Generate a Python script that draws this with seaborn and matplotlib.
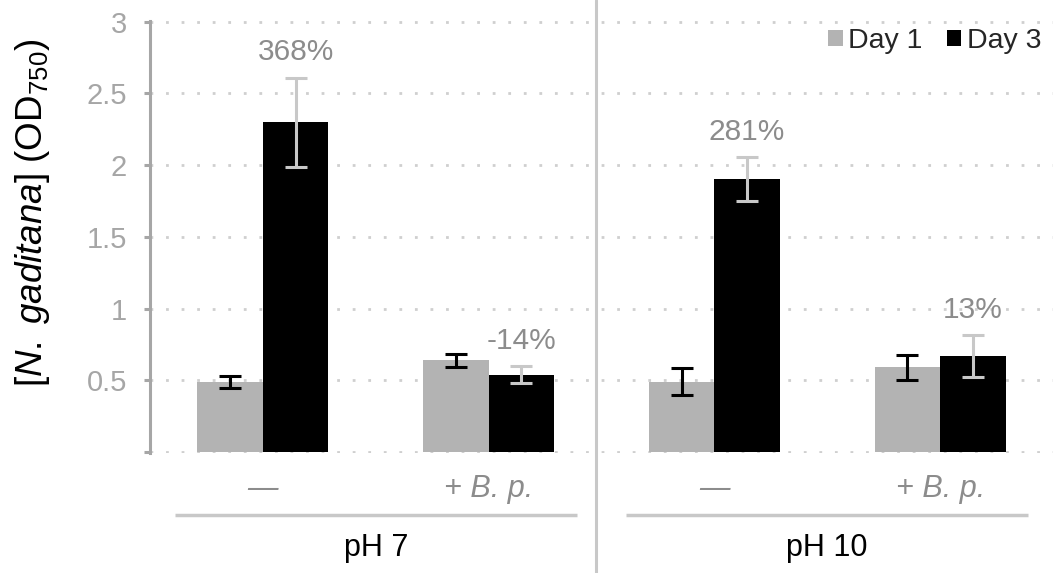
import numpy as np
import pandas as pd
import matplotlib
matplotlib.use("Agg")
import matplotlib.pyplot as plt
import seaborn as sns
from matplotlib.transforms import blended_transform_factory

# ---- data ----
categories = ["pH7_ctrl", "pH7_Bp", "pH10_ctrl", "pH10_Bp"]
tick_labels = ["\u2014", "+ B. p.", "\u2014", "+ B. p."]
groups = ["pH 7", "pH 10"]
days = ["Day 1", "Day 3"]
day1_values = [0.49, 0.64, 0.49, 0.59]
day1_errors = [0.04, 0.045, 0.095, 0.09]
day3_values = [2.30, 0.54, 1.90, 0.67]
day3_errors = [0.31, 0.058, 0.153, 0.145]
change_labels = ["368%", "-14%", "281%", "13%"]
y_ticks = [0, 0.5, 1, 1.5, 2, 2.5, 3]
y_tick_labels = ["", "0.5", "1", "1.5", "2", "2.5", "3"]

sns.set_theme(style="white")
plt.rcParams["font.family"] = ["Liberation Sans", "DejaVu Sans"]
plt.rcParams["mathtext.fontset"] = "custom"
plt.rcParams["mathtext.rm"] = "Liberation Sans"
plt.rcParams["mathtext.it"] = "Liberation Sans:italic"

df = pd.DataFrame({
    "category": categories * 2,
    "day": [days[0]] * len(categories) + [days[1]] * len(categories),
    "value": day1_values + day3_values,
})

W, H = 1053, 573
fig = plt.figure(figsize=(W / 100, H / 100), dpi=100)
ax = fig.add_axes([150 / W, 1 - 452.7 / H, (W - 150) / W, (452.7 - 21) / H])

bar_colors = ["#b3b3b3", "#000000"]
err_colors = ["#000000", "#c8c8c8"]
sns.barplot(data=df, x="category", y="value", hue="day", order=categories,
            hue_order=days, palette=bar_colors, width=0.58, errorbar=None,
            saturation=1, linewidth=0, ax=ax, zorder=2)

ax.set_ylim(-0.004, 3.004)
ax.set_xlim(-0.5, len(categories) - 0.5)
ax.set_yticks(y_ticks)
ax.set_yticklabels(y_tick_labels)
ax.yaxis.grid(True, linestyle=(0, (1, 4.6)), linewidth=2, color="#cfcfcf")
ax.xaxis.grid(False)
ax.set_axisbelow(True)

# error bars and labels
all_vals = [day1_values, day3_values]
all_errs = [day1_errors, day3_errors]
bar_containers = list(ax.containers)
for k, cont in enumerate(bar_containers):
    for j, bar in enumerate(cont.patches):
        x = bar.get_x() + bar.get_width() / 2
        ax.errorbar(x, all_vals[k][j], yerr=all_errs[k][j], fmt="none",
                    ecolor=err_colors[k], elinewidth=2.2, capsize=8,
                    capthick=2.2, zorder=3)
        if k == 1:
            ax.annotate(change_labels[j], (x, all_vals[k][j] + all_errs[k][j]),
                        xytext=(0, 8), textcoords="offset points",
                        ha="center", va="bottom", fontsize=21.5, color="#8c8c8c")

# spines and ticks
for s in ["top", "right", "bottom"]:
    ax.spines[s].set_visible(False)
ax.spines["left"].set_color("#a6a6a6")
ax.spines["left"].set_linewidth(2.2)
ax.tick_params(axis="y", length=4.5, width=2.2, color="#a6a6a6",
               labelcolor="#a6a6a6", labelsize=21, pad=12, left=True)
ax.set_xticks(range(len(categories)))
ax.set_xticklabels(tick_labels, fontstyle="italic", color="#8c8c8c", fontsize=22)
ax.tick_params(axis="x", length=0, pad=15)
ax.set_xlabel("")
ax.set_ylabel(r"[$\mathit{N.\ gaditana}$] (OD$_{750}$)", fontsize=26.5, color="black")
ax.yaxis.set_label_coords(-0.108, 0.556)

# legend
handles, labels = ax.get_legend_handles_labels()
ax.legend(handles, labels, ncol=2, frameon=False, loc="upper right",
          bbox_to_anchor=(0.987, 0.984), fontsize=20.5, handlelength=0.5,
          handleheight=0.5, handletextpad=0.2, columnspacing=0.85,
          borderpad=0, borderaxespad=0)

# group decorations
trans = blended_transform_factory(ax.transData, fig.transFigure)
for g, name in enumerate(groups):
    c = 0.5 + 2 * g
    ax.plot([c - 0.89, c + 0.89], [1 - 515 / H] * 2, transform=trans,
            color="#c8c8c8", lw=2.5, clip_on=False, solid_capstyle="butt")
    ax.text(c, 1 - 548 / H, name, transform=trans, ha="center", va="center",
            fontsize=22, color="black")
ax.plot([1.475, 1.475], [0, 1], transform=trans, color="#c8c8c8", lw=2.2,
        clip_on=False)

fig.savefig("out.png", dpi=100)
